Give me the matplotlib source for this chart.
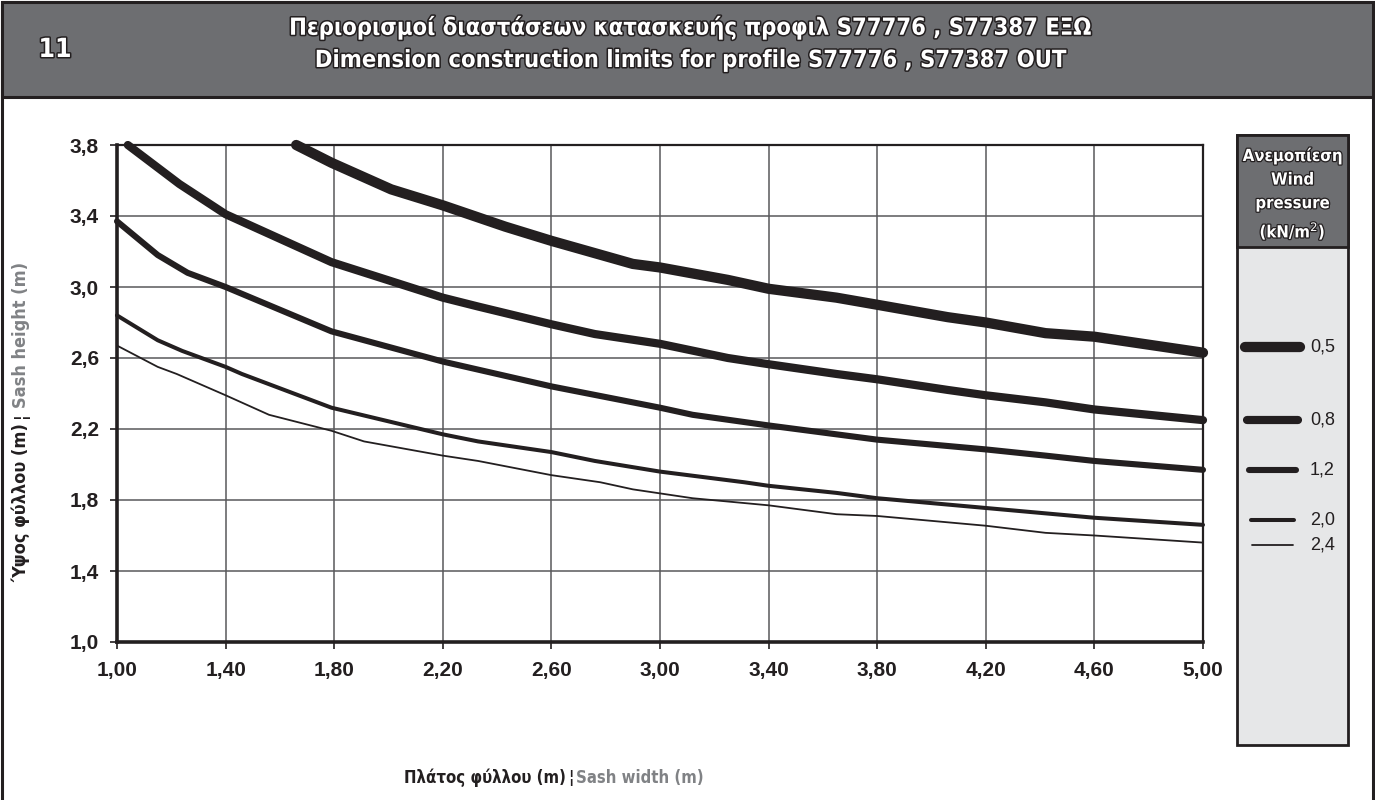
import matplotlib
matplotlib.use("Agg")
import matplotlib.pyplot as plt
import matplotlib.patheffects as pe
from matplotlib.patches import Rectangle

# fonts: condensed bold for titles, plain Arial-like for ticks
plt.rcParams['font.family'] = ['Liberation Sans', 'DejaVu Sans']
NARROW = dict(family='DejaVu Sans', fontstretch='condensed', fontweight='bold')

# ---- data (width m -> height m) ----
pressures = ['0,5', '0,8', '1,2', '2,0', '2,4']

p05_x = [1.66, 1.79, 2.01, 2.20, 2.43, 2.60, 2.90, 3.00, 3.25, 3.40, 3.65, 3.80, 4.06, 4.20, 4.42, 4.60, 5.00]
p05_y = [3.80, 3.70, 3.55, 3.46, 3.34, 3.26, 3.13, 3.11, 3.04, 2.99, 2.94, 2.90, 2.83, 2.80, 2.74, 2.72, 2.63]

p08_x = [1.04, 1.23, 1.40, 1.79, 2.20, 2.33, 2.60, 2.76, 3.00, 3.25, 3.40, 3.65, 3.80, 4.06, 4.20, 4.42, 4.60, 5.00]
p08_y = [3.80, 3.58, 3.41, 3.14, 2.94, 2.89, 2.79, 2.735, 2.68, 2.60, 2.565, 2.51, 2.48, 2.42, 2.39, 2.35, 2.31, 2.25]

p12_x = [1.00, 1.15, 1.26, 1.40, 1.79, 2.20, 2.60, 3.00, 3.12, 3.40, 3.65, 3.80, 4.20, 4.42, 4.60, 5.00]
p12_y = [3.37, 3.18, 3.08, 3.00, 2.75, 2.58, 2.44, 2.32, 2.28, 2.22, 2.17, 2.14, 2.085, 2.05, 2.02, 1.97]

p20_x = [1.00, 1.15, 1.24, 1.40, 1.46, 1.79, 2.20, 2.33, 2.60, 2.76, 3.00, 3.31, 3.40, 3.65, 3.80, 4.20, 4.60, 5.00]
p20_y = [2.84, 2.70, 2.64, 2.55, 2.51, 2.32, 2.17, 2.13, 2.07, 2.02, 1.96, 1.90, 1.88, 1.84, 1.81, 1.755, 1.70, 1.66]

p24_x = [1.00, 1.15, 1.22, 1.40, 1.56, 1.79, 1.91, 2.20, 2.33, 2.60, 2.78, 2.90, 3.12, 3.40, 3.65, 3.80, 4.20, 4.42, 4.60, 5.00]
p24_y = [2.67, 2.55, 2.51, 2.39, 2.28, 2.19, 2.13, 2.05, 2.02, 1.94, 1.90, 1.86, 1.81, 1.77, 1.72, 1.71, 1.655, 1.615, 1.60, 1.56]

series_x = [p05_x, p08_x, p12_x, p20_x, p24_x]
series_y = [p05_y, p08_y, p12_y, p20_y, p24_y]

x_ticks = [1.00, 1.40, 1.80, 2.20, 2.60, 3.00, 3.40, 3.80, 4.20, 4.60, 5.00]
x_ticklabels = ['1,00', '1,40', '1,80', '2,20', '2,60', '3,00', '3,40', '3,80', '4,20', '4,60', '5,00']
y_ticks = [1.0, 1.4, 1.8, 2.2, 2.6, 3.0, 3.4, 3.8]
y_ticklabels = ['1,0', '1,4', '1,8', '2,2', '2,6', '3,0', '3,4', '3,8']

title_gr = 'Περιορισμοί διαστάσεων κατασκευής προφιλ S77776 , S77387 ΕΞΩ'
title_en = 'Dimension construction limits for profile S77776 , S77387 OUT'

# ---- styles ----
line_widths = [7.4, 5.9, 4.4, 2.9, 1.3]
legend_y = [347, 420, 470, 520, 545]       # legend rows, pixels from top
legend_len = [(1245, 1300), (1247, 1298), (1249, 1296), (1251, 1294), (1252, 1293)]
HEADER_GRAY = '#6d6e71'
PANEL_GRAY = '#e6e7e8'
INK = '#231f20'
outline = [pe.withStroke(linewidth=2.2, foreground=INK)]

W, H = 1375, 800
fig = plt.figure(figsize=(W / 100, H / 100), dpi=100)

# whole-figure overlay in pixel coords
bg = fig.add_axes([0, 0, 1, 1])
bg.set_xlim(0, W)
bg.set_ylim(H, 0)
bg.axis('off')
bg.add_patch(Rectangle((2, 2), W - 4, H + 10, fill=False, lw=2.2, ec=INK))
bg.add_patch(Rectangle((2, 2), W - 4, 95, fc=HEADER_GRAY, lw=2.2, ec=INK))
bg.text(55, 50, '11', color='white', fontsize=19, ha='center', va='center',
        path_effects=outline, **NARROW)
bg.text(690, 27, title_gr, color='white', fontsize=17, ha='center', va='center',
        path_effects=outline, **NARROW)
bg.text(690, 60, title_en, color='white', fontsize=17, ha='center', va='center',
        path_effects=outline, **NARROW)

# legend panel
bg.add_patch(Rectangle((1237, 135), 111, 610, fc=PANEL_GRAY, lw=2, ec=INK))
bg.add_patch(Rectangle((1237, 135), 111, 112, fc=HEADER_GRAY, lw=2, ec=INK))
bg.text(1292.5, 194, 'Ανεμοπίεση\nWind\npressure\n(kN/m$^2$)', color='white', fontsize=12,
        ha='center', va='center', linespacing=1.4,
        path_effects=[pe.withStroke(linewidth=1.8, foreground=INK)], **NARROW)
for lab, lw, yy, (x0, x1) in zip(pressures, line_widths, legend_y, legend_len):
    bg.plot([x0, x1], [yy, yy], color=INK, lw=lw, solid_capstyle='round')
    bg.text(1310, yy, lab, fontsize=13, color=INK, va='center', ha='left')

# axis titles (two-tone)
bg.text(566, 778, 'Πλάτος φύλλου (m)', fontsize=12, color=INK, ha='right', va='center', **NARROW)
bg.text(571, 778, '¦', fontsize=12, color=INK, ha='center', va='center', **NARROW)
bg.text(576, 778, 'Sash width (m)', fontsize=12, color='#808285', ha='left', va='center', **NARROW)
bg.text(21, 423, 'Ύψος φύλλου (m)', fontsize=13, color=INK, ha='right', va='center',
        rotation=90, rotation_mode='anchor', **NARROW)
bg.text(21, 415, '¦', fontsize=13, color=INK, ha='center', va='center',
        rotation=90, rotation_mode='anchor', **NARROW)
bg.text(21, 408, 'Sash height (m)', fontsize=13, color='#808285', ha='left', va='center',
        rotation=90, rotation_mode='anchor', **NARROW)

# ---- main chart ----
ax = fig.add_axes([117 / W, 1 - 642 / H, (1203 - 117) / W, (642 - 145) / H])
ax.set_xlim(1.0, 5.0)
ax.set_ylim(1.0, 3.8)
for xs, ys, lw in zip(series_x, series_y, line_widths):
    ax.plot(xs, ys, color=INK, lw=lw, solid_capstyle='round',
            solid_joinstyle='round', clip_on=False, zorder=3)

ax.set_xticks(x_ticks)
ax.set_xticklabels(x_ticklabels)
ax.set_yticks(y_ticks)
ax.set_yticklabels(y_ticklabels)
ax.grid(True, color='#58595b', lw=1.1)
ax.set_axisbelow(True)
ax.tick_params(axis='both', length=5, width=1.2, color=INK, labelsize=15,
               labelcolor=INK)
ax.tick_params(axis='x', pad=9)
ax.tick_params(axis='y', pad=8)
for lab in ax.get_xticklabels() + ax.get_yticklabels():
    lab.set_fontweight('bold')
ax.spines['left'].set_linewidth(2.6)
ax.spines['bottom'].set_linewidth(2.6)
ax.spines['top'].set_linewidth(1.6)
ax.spines['right'].set_linewidth(1.6)
for s in ax.spines.values():
    s.set_color(INK)

fig.savefig('out.png', dpi=100)
